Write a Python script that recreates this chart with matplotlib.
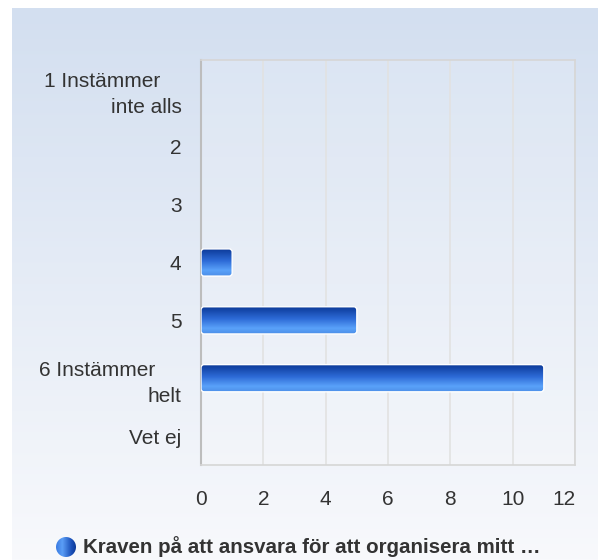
import numpy as np
import matplotlib.pyplot as plt
from matplotlib.patches import FancyBboxPatch, Circle
from matplotlib.colors import LinearSegmentedColormap

plt.rcParams['font.family'] = ['Liberation Sans', 'DejaVu Sans']

categories = ['1 Instämmer\u2002\u2002\ninte alls', '2', '3', '4', '5',
              '6 Instämmer\u2002\u2002\u00a0\nhelt', 'Vet ej']
counts = [0, 0, 0, 1, 5, 11, 0]
x_ticks = [0, 2, 4, 6, 8, 10, 12]
legend_label = 'Kraven på att ansvara för att organisera mitt …'

W, H = 598, 560
fig = plt.figure(figsize=(W / 100, H / 100), dpi=100)

# background panel with vertical gradient
bg = fig.add_axes([12 / W, 0, 1 - 12 / W, 1 - 8 / H])
bg_cmap = LinearSegmentedColormap.from_list('bg', ['#d3dff0', '#f8f9fc'])
bg.imshow(np.linspace(0, 1, 256).reshape(-1, 1), aspect='auto', cmap=bg_cmap,
          extent=[0, 1, 0, 1])
bg.set_axis_off()

# plot area
ax = fig.add_axes([201 / W, (H - 465) / H, 374 / W, 405 / H])
ax.set_facecolor((1, 1, 1, 0.15))

bar_cmap = LinearSegmentedColormap.from_list(
    'bar', [(0, '#0a3796'), (0.45, '#2d6ad6'), (0.8, '#5aa2fa'), (1, '#4d8fe8')])
grad = np.linspace(0, 1, 64).reshape(-1, 1)

bars = ax.barh(range(len(categories)), counts, height=0.47, color='none')
asp = (374 / 12) / (405 / 7)
for b in bars:
    w = b.get_width()
    if w <= 0:
        continue
    y0 = b.get_y()
    h = b.get_height()
    box = FancyBboxPatch((0, y0), w, h, boxstyle='round,pad=0,rounding_size=0.1',
                         mutation_aspect=asp, facecolor='none', edgecolor='white',
                         linewidth=1.0, zorder=4)
    ax.add_patch(box)
    im = ax.imshow(grad, aspect='auto', cmap=bar_cmap, extent=[0, w, y0 + h, y0],
                   zorder=3)
    im.set_clip_path(box)

ax.set_xlim(0, 12)
ax.set_ylim(len(categories) - 0.5, -0.5)

ax.set_xticks(x_ticks)
ax.set_xticklabels([str(t) for t in x_ticks])
ax.get_xticklabels()[-1].set_ha('right')  # last label kept inside the plot edge
ax.set_yticks(range(len(categories)))
ax.set_yticklabels(categories, ha='right', linespacing=1.45)
ax.tick_params(axis='both', length=0, labelsize=15, labelcolor='#333333')
ax.tick_params(axis='x', pad=18)
ax.tick_params(axis='y', pad=14)

ax.grid(axis='x', color='#e2e2e2', linewidth=1.2)
ax.set_axisbelow(True)
for s in ['top', 'right', 'bottom']:
    ax.spines[s].set_color('#d6d6d6')
    ax.spines[s].set_linewidth(1.2)
ax.spines['left'].set_color('#bdbdbd')
ax.spines['left'].set_linewidth(1.5)

# legend: gradient dot + bold label
lax = fig.add_axes([56 / W, (H - 557) / H, 20 / W, 20 / H])
dot_cmap = LinearSegmentedColormap.from_list(
    'dot', [(0, '#3b7be2'), (0.3, '#5b9ef6'), (0.75, '#1a4fb8'), (1, '#0a3590')])
dot = lax.imshow(np.linspace(0, 1, 64).reshape(1, -1), aspect='auto', cmap=dot_cmap,
                 extent=[0, 1, 0, 1])
circ = Circle((0.5, 0.5), 0.5, transform=lax.transData, facecolor='none',
              edgecolor='none')
lax.add_patch(circ)
dot.set_clip_path(circ)
lax.set_xlim(0, 1)
lax.set_ylim(0, 1)
lax.set_axis_off()

fig.text(83 / W, (H - 547) / H, legend_label, ha='left', va='center',
         fontsize=14.8, fontweight='bold', color='#333333')

fig.savefig('out.png', dpi=100)
